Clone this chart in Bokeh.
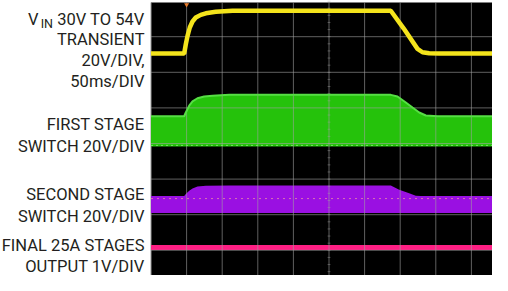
import numpy as np
from bokeh.plotting import figure
from bokeh.models import Range1d
from bokeh.core.properties import value
from bokeh.embed import file_html
from bokeh.resources import INLINE

# ---------------- data (read from the scope shot) ----------------
# time in ms (50 ms/div), values in volts
VIN_T = [0, 46.6, 48.9, 51.3, 54.5, 58.3, 62.9, 69.9, 77.0, 91.0, 114.5,
         336.8, 355.0, 374.3, 381.3, 390.7, 404.8, 500]
VIN_V = [30, 30, 35.2, 39.9, 44.6, 48.0, 50.2, 51.7, 52.6, 53.4, 54.0,
         54.0, 44.0, 32.6, 30.7, 30.1, 30.0, 30.0]

SW1_T = [0, 46.6, 48.9, 53.7, 58.3, 65.3, 74.7, 86.4, 110,
         336.8, 346.2, 356.0, 367.3, 376.7, 386.0, 402.4, 500]
SW1_V = [17, 17, 19.1, 22.9, 25.3, 27.1, 28.1, 28.5, 29,
         29, 28.1, 25.3, 21.9, 19.1, 17.4, 17, 17]

SW2_T = [0, 46.6, 48.9, 53.7, 58.3, 65.3, 77.0, 110,
         336.8, 348.6, 362.6, 371.9, 378.9, 500]
SW2_V = [9.6, 9.6, 10.6, 12.5, 13.8, 14.9, 15.3, 15.4,
         15.4, 13.0, 11.1, 9.7, 9.6, 9.6]
SW2_REF_V = 8.1

OUT_T = [0, 500]
OUT_V = [1.0, 1.0]

LABELS = ["30V TO 54V", "TRANSIENT", "20V/DIV,", "50ms/DIV",
          "FIRST STAGE", "SWITCH 20V/DIV",
          "SECOND STAGE", "SWITCH 20V/DIV",
          "FINAL 25A STAGES", "OUTPUT 1V/DIV"]

# ---------------- scope settings ----------------
MS_PER_DIV = 50
CH_SCALE = {"vin": 20, "sw1": 20, "sw2": 20, "out": 1}      # V/div
CH_POS = {"vin": 1.028, "sw1": -0.084, "sw2": -1.952, "out": -3.921}  # div

def to_div(ch, v):
    return CH_POS[ch] + np.asarray(v, dtype=float) / CH_SCALE[ch]

# ---------------- layout geometry ----------------
W, H = 492, 275
PX_DIV = 35.6
X0 = 150.5      # figure px of t = 0
YC = 143.0      # figure px of 0 div

def tx(page_x):
    return (page_x - 8 - X0) / PX_DIV * MS_PER_DIV

def ty(page_y):
    return (YC - (page_y - 8)) / PX_DIV

p = figure(width=W, height=H, output_backend="svg", toolbar_location=None,
           x_range=Range1d(-X0 / PX_DIV * MS_PER_DIV, (W - X0) / PX_DIV * MS_PER_DIV),
           y_range=Range1d(-(H - YC) / PX_DIV, YC / PX_DIV),
           x_axis_location=None, y_axis_location=None, min_border=0,
           outline_line_color=None, background_fill_color="white",
           border_fill_color="white")
p.xgrid.visible = False
p.ygrid.visible = False

# screen
p.quad(left=0, right=10 * MS_PER_DIV, bottom=-4, top=3.96, fill_color="black", line_color=None)
p.segment(x0=[0], y0=[-4], x1=[0], y1=[3.96], line_color="#9a9a9a", line_width=1)

# first stage switch (filled envelope)
p.varea(x=SW1_T, y1=to_div("sw1", np.zeros(len(SW1_T))), y2=to_div("sw1", SW1_V),
        fill_color="#25c20b")
# second stage switch
p.varea(x=SW2_T, y1=to_div("sw2", np.zeros(len(SW2_T))), y2=to_div("sw2", SW2_V),
        fill_color="#9a10e2")
p.line([0, 500], to_div("sw2", [SW2_REF_V, SW2_REF_V]), line_color="#e88aa8",
       line_width=1, line_dash="2 4", line_alpha=0.8)

# output
p.line(OUT_T, to_div("out", OUT_V), line_color="#ff1f84", line_width=5)

# graticule
vdivs = np.arange(1, 10) * MS_PER_DIV
p.segment(x0=vdivs, y0=-4, x1=vdivs, y1=3.96, line_color="#a0a0a0", line_width=1, line_alpha=0.6)
hdivs = np.arange(-3, 4)
p.segment(x0=0, y0=hdivs, x1=10 * MS_PER_DIV, y1=hdivs, line_color="#a0a0a0", line_width=1, line_alpha=0.6)
minor = np.arange(-4, 4.01, 0.2)
p.segment(x0=5 * MS_PER_DIV - 2, y0=minor, x1=5 * MS_PER_DIV + 2, y1=minor,
          line_color="#a0a0a0", line_width=1, line_alpha=0.45)

# edges of first stage envelope
p.line(SW1_T, to_div("sw1", SW1_V), line_color="#56de44", line_width=2)
p.line(SW1_T, to_div("sw1", np.zeros(len(SW1_T))) + 0.03, line_color="#6ee85c",
       line_width=1, line_dash="2 3")

# vin trace
p.line(VIN_T, to_div("vin", VIN_V), line_color="#f4e41c", line_width=4.5)

# trigger marker
p.scatter([MS_PER_DIV], [3.9], marker="inverted_triangle", size=5,
          fill_color="#e87a2a", line_color=None)

# ---------------- labels ----------------
FONT = value("Roboto")
baselines = [27, 47, 68, 89, 132, 154, 202, 224, 253, 274]
p.text(x=[tx(152)] * len(LABELS), y=[ty(b) for b in baselines], text=LABELS,
       text_align="right", text_baseline="alphabetic",
       text_font=FONT, text_font_size="16.5px", text_color="#231f20")
p.text(x=[tx(46)], y=[ty(27)], text=["V"], text_align="right",
       text_baseline="alphabetic", text_font=FONT,
       text_font_size="16.5px", text_color="#231f20")
p.text(x=[tx(60.5)], y=[ty(30.5)], text=["IN"], text_align="right",
       text_baseline="alphabetic", text_font=FONT,
       text_font_size="12.5px", text_color="#231f20")

open("out.html", "w").write(file_html(p, INLINE))
